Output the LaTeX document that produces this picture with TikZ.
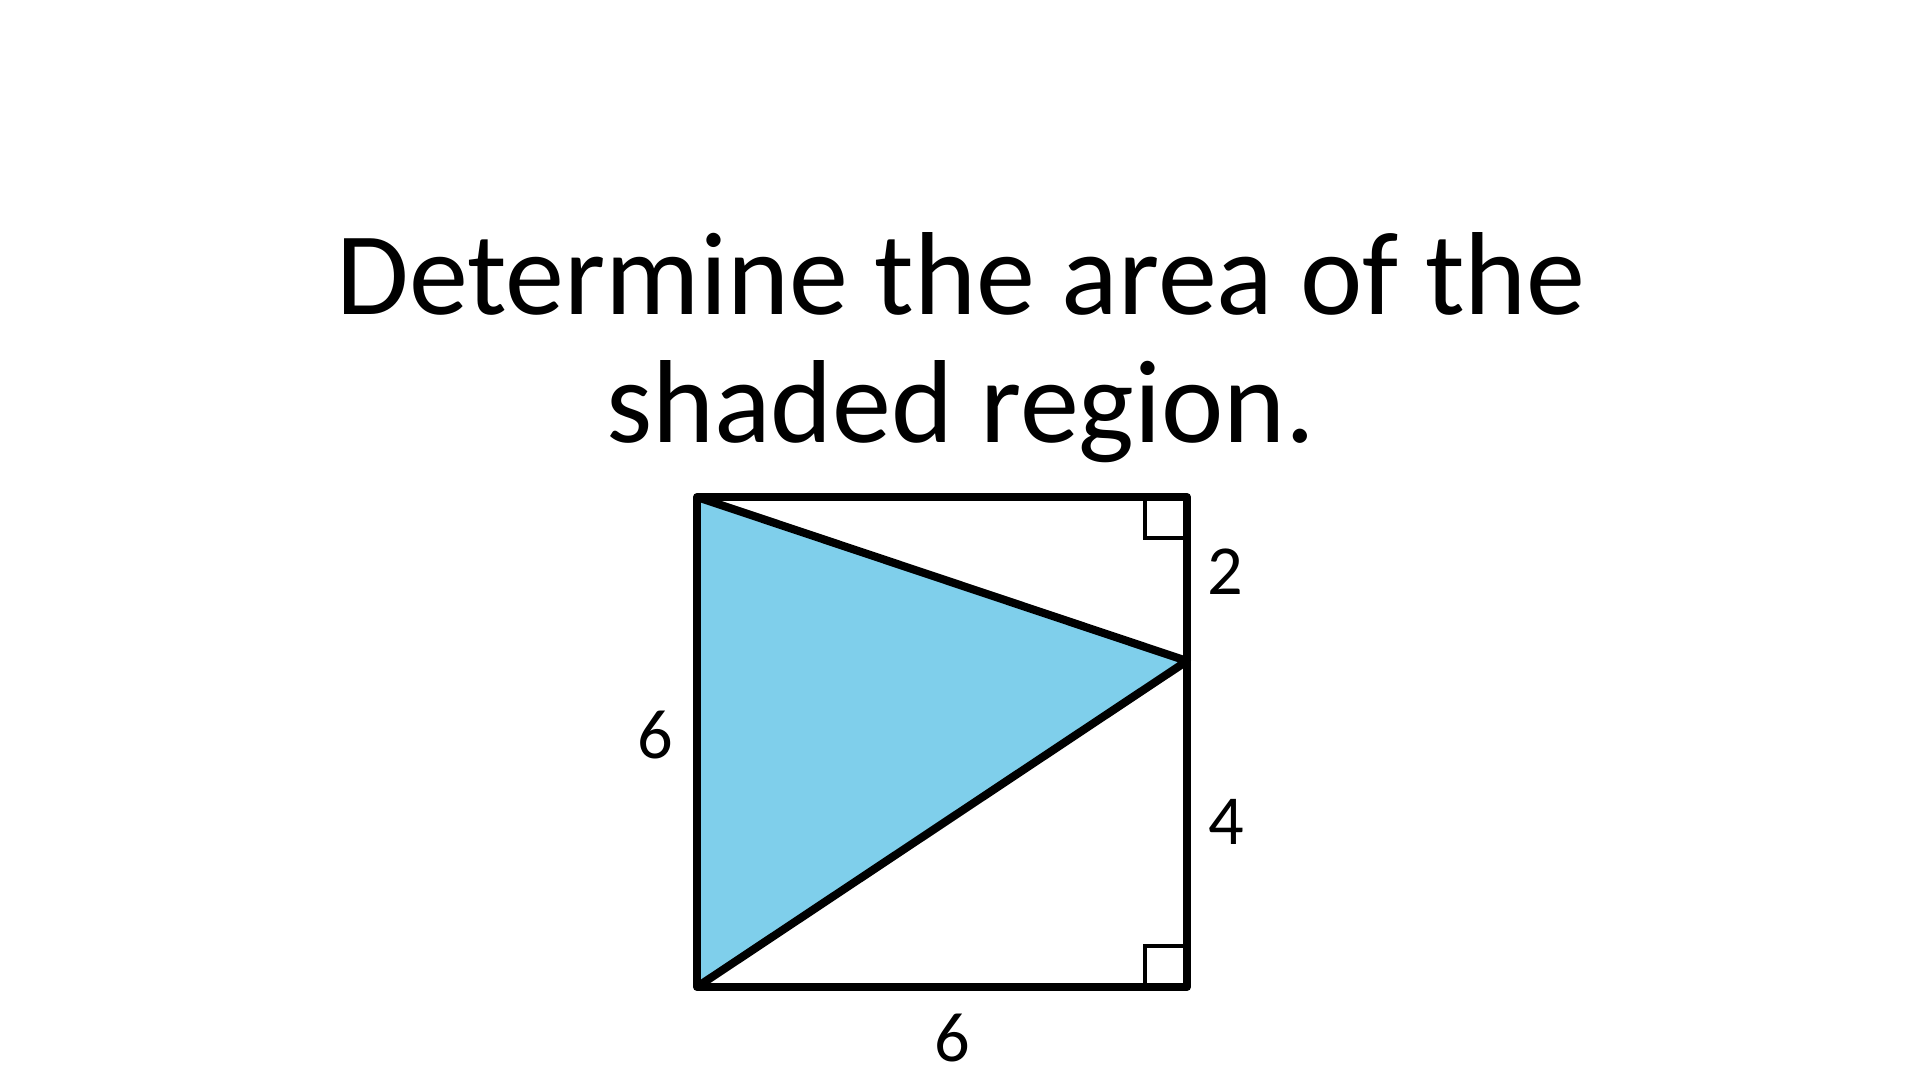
\documentclass[tikz,border=0pt]{standalone}
\usepackage{fontspec}
\setmainfont{Carlito}

\tikzset{
  edge/.style={line width=2.3pt, line join=round},
  tick/.style={line width=1.1pt},
  shade/.style={fill=shadeblue},
  titletext/.style={font=\fontsize{33.6}{36}\selectfont, anchor=base, inner sep=0pt},
  sidelabel/.style={font=\fontsize{20}{24}\selectfont, inner sep=0pt}
}
\definecolor{shadeblue}{RGB}{127,207,235}

\begin{document}
\begin{tikzpicture}
\useasboundingbox (0,0) rectangle (19.200,10.800);
\node[titletext] (line1) at (9.610,7.650) {Determine the area of the};
\node[titletext] (line2) at (9.610,6.370) {shaded region.};
\coordinate (tl) at (6.970,5.830);
\coordinate (tr) at (11.870,5.830);
\coordinate (br) at (11.870,0.930);
\coordinate (bl) at (6.970,0.930);
\coordinate (mr) at (11.870,4.190);
\fill[shade] (tl) -- (mr) -- (bl) -- cycle;
\draw[tick] (11.450,5.830) -- (11.450,5.420) -- (11.870,5.420);
\draw[tick] (11.450,0.930) -- (11.450,1.340) -- (11.870,1.340);
\draw[edge] (tl) -- (tr) -- (br) -- (bl) -- cycle;
\draw[edge] (tl) -- (mr) -- (bl);
\node[sidelabel] (top) at (12.250,5.080) {2};
\node[sidelabel] (low) at (12.260,2.580) {4};
\node[sidelabel] (left) at (6.550,3.450) {6};
\node[sidelabel] (bottom) at (9.520,0.420) {6};
\end{tikzpicture}
\end{document}
